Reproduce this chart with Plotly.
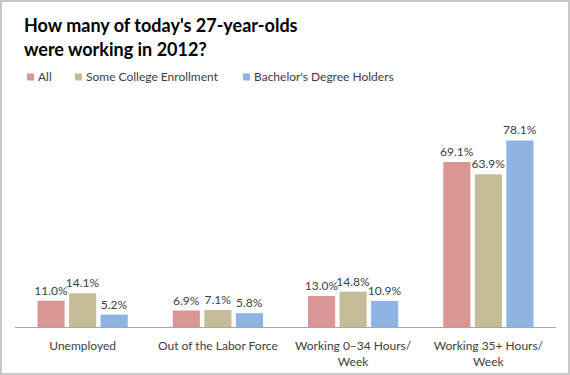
import plotly.graph_objects as go

categories = ["Unemployed", "Out of the Labor Force", "Working 0\u201334 Hours/<br>Week", "Working 35+ Hours/<br>Week"]
series_names = ["All", "Some College Enrollment", "Bachelor's Degree Holders"]
all_vals = [11.0, 6.9, 13.0, 69.1]
college_vals = [14.1, 7.1, 14.8, 63.9]
bachelor_vals = [5.2, 5.8, 10.9, 78.1]
title_lines = ["How many of today's 27-year-olds", "were working in 2012?"]
colors = ["#D99694", "#C4BD97", "#8EB4E3"]

FONT = "Lato"
TXT = "#404040"

W, H = 570, 375
L, R, T, B = 15, 14, 112, 48
pw, ph = W - L - R, H - T - B

def px_x(x):
    return (x - L) / pw

def px_y(y):
    return (H - B - y) / ph

fig = go.Figure()
for name, vals, col in zip(series_names, [all_vals, college_vals, bachelor_vals], colors):
    fig.add_trace(go.Bar(
        x=categories, y=vals, name=name,
        marker=dict(color=col, line=dict(width=0)),
        text=[f"{v:.1f}%" for v in vals], textposition="outside",
        constraintext="none", cliponaxis=False,
        textfont=dict(family=FONT, size=12, color=TXT),
        showlegend=False, hoverinfo="skip",
    ))

shapes = [dict(type="rect", xref="paper", yref="paper",
               x0=px_x(1), x1=px_x(W - 1), y0=px_y(H - 1), y1=px_y(1),
               line=dict(color="#C8C8C8", width=2), fillcolor="rgba(0,0,0,0)", layer="below")]
annotations = []
for line, ty in zip(title_lines, [25, 49]):
    annotations.append(dict(xref="paper", yref="paper", x=px_x(22), y=px_y(ty),
                            xanchor="left", yanchor="middle", showarrow=False,
                            text=f"<b>{line}</b>",
                            font=dict(family=FONT, size=18, color="#000000")))
leg_x = [27, 75, 243]
leg_y = 77
for lx, name, col in zip(leg_x, series_names, colors):
    shapes.append(dict(type="rect", xref="paper", yref="paper",
                       x0=px_x(lx), x1=px_x(lx + 7), y0=px_y(leg_y + 3.5), y1=px_y(leg_y - 3.5),
                       line=dict(width=0), fillcolor=col))
    annotations.append(dict(xref="paper", yref="paper", x=px_x(lx + 9), y=px_y(leg_y),
                            xanchor="left", yanchor="middle", showarrow=False, text=name,
                            font=dict(family=FONT, size=12, color=TXT)))

fig.update_layout(
    width=W, height=H,
    margin=dict(l=L, r=R, t=T, b=B, autoexpand=False),
    paper_bgcolor="white", plot_bgcolor="white",
    barmode="group", bargap=0.30, bargroupgap=0.14,
    xaxis=dict(showline=True, linecolor="#A6A6A6", linewidth=1, ticks="",
               ticklabelstandoff=8, automargin=False,
               tickfont=dict(family=FONT, size=12, color=TXT), showgrid=False),
    yaxis=dict(range=[0, 90], visible=False, showgrid=False),
    shapes=shapes, annotations=annotations,
)

fig.write_html("out.html", config={"displayModeBar": False},
               post_script="document.body.style.margin='0';")
